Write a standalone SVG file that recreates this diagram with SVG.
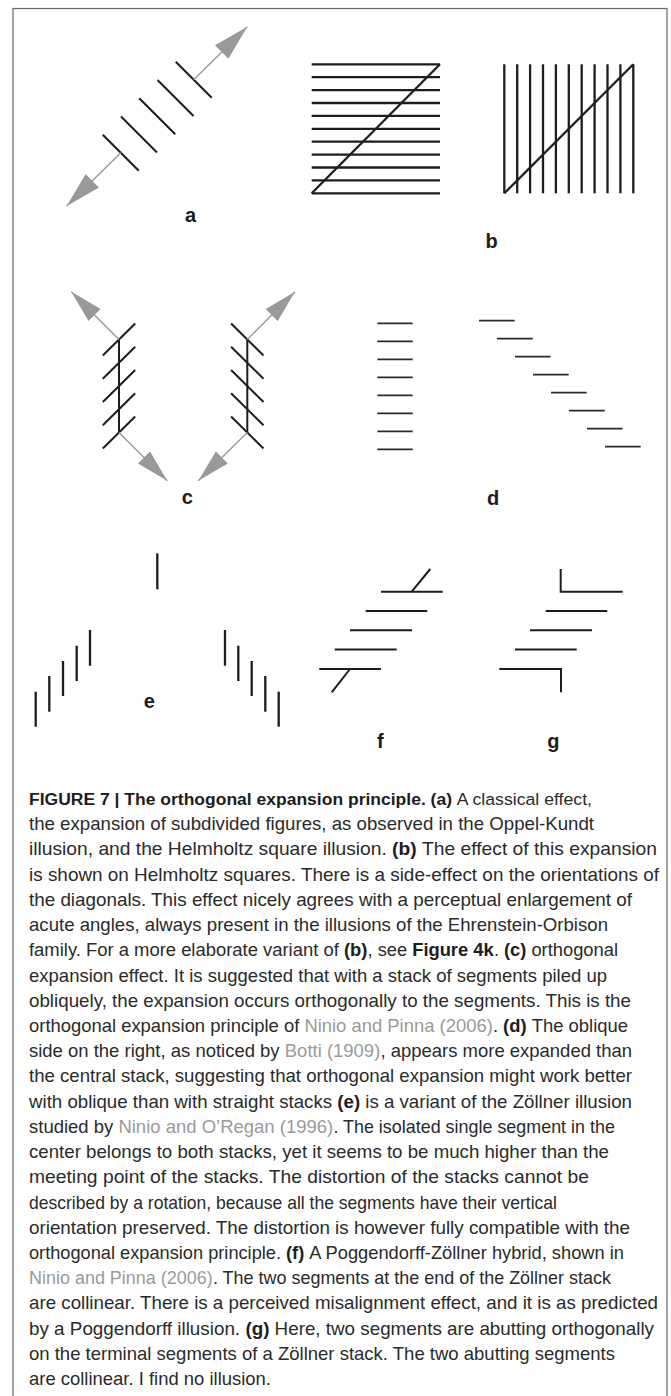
<svg xmlns="http://www.w3.org/2000/svg" width="671" height="1396" viewBox="0 0 671 1396">
<style>
.k{stroke:#1e1c1d;stroke-width:2;fill:none;stroke-linecap:butt}
.kb{stroke:#1e1c1d;stroke-width:2.3;fill:none}
.kd{stroke:#2a2a2a;stroke-width:1.8;fill:none}
.g{stroke:#9a9a9a;stroke-width:1.4;fill:none}
.lab{font-family:"Liberation Sans",Arial,sans-serif;font-weight:bold;font-size:20px;fill:#1e1c1d;text-anchor:middle}
.cap text{font-family:"Liberation Sans",Arial,sans-serif;font-size:18.4px;fill:#2a2a2a}
.cap .b{font-weight:bold;fill:#1e1c1d}
.cap .r{fill:#9a9a9a}
</style>
<defs>
<marker id="ahA" markerUnits="userSpaceOnUse" viewBox="0 0 36 20" markerWidth="36" markerHeight="20" refX="36" refY="10" orient="auto"><path d="M0,0.5 L36,10 L0,19.5 z" fill="#999"/></marker>
<marker id="ahC" markerUnits="userSpaceOnUse" viewBox="0 0 33 18" markerWidth="33" markerHeight="18" refX="33" refY="9" orient="auto"><path d="M0,0.5 L33,9 L0,17.5 z" fill="#999"/></marker>
</defs>
<rect x="13" y="8.5" width="654" height="1400" fill="#fff" stroke="#666" stroke-width="1.2"/>

<g id="panel-a">
<line class="k" x1="102.8" y1="134.8" x2="138.8" y2="170.8"/>
<line class="k" x1="121" y1="116.5" x2="157" y2="152.5"/>
<line class="k" x1="139.2" y1="98.2" x2="175.2" y2="134.2"/>
<line class="k" x1="157.5" y1="80" x2="193.5" y2="116"/>
<line class="k" x1="175.7" y1="61.7" x2="211.7" y2="97.7"/>
<text class="lab" x="190.5" y="222">a</text>
</g>

<g id="panel-b">
<g class="kb">
<line x1="311.7" y1="64.3" x2="440" y2="64.3"/>
<line x1="311.7" y1="77.2" x2="440" y2="77.2"/>
<line x1="311.7" y1="90.1" x2="440" y2="90.1"/>
<line x1="311.7" y1="103" x2="440" y2="103"/>
<line x1="311.7" y1="115.9" x2="440" y2="115.9"/>
<line x1="311.7" y1="128.8" x2="440" y2="128.8"/>
<line x1="311.7" y1="141.7" x2="440" y2="141.7"/>
<line x1="311.7" y1="154.6" x2="440" y2="154.6"/>
<line x1="311.7" y1="167.5" x2="440" y2="167.5"/>
<line x1="311.7" y1="180.4" x2="440" y2="180.4"/>
<line x1="311.7" y1="193.3" x2="440" y2="193.3"/>
<line x1="311.7" y1="193.3" x2="440" y2="64.3"/>
<line x1="504.3" y1="64.3" x2="504.3" y2="193.3"/>
<line x1="517.2" y1="64.3" x2="517.2" y2="193.3"/>
<line x1="530.1" y1="64.3" x2="530.1" y2="193.3"/>
<line x1="543" y1="64.3" x2="543" y2="193.3"/>
<line x1="555.9" y1="64.3" x2="555.9" y2="193.3"/>
<line x1="568.8" y1="64.3" x2="568.8" y2="193.3"/>
<line x1="581.7" y1="64.3" x2="581.7" y2="193.3"/>
<line x1="594.6" y1="64.3" x2="594.6" y2="193.3"/>
<line x1="607.5" y1="64.3" x2="607.5" y2="193.3"/>
<line x1="620.4" y1="64.3" x2="620.4" y2="193.3"/>
<line x1="633.3" y1="64.3" x2="633.3" y2="193.3"/>
<line x1="504.3" y1="193.3" x2="633.3" y2="64.3"/>
</g>
<text class="lab" x="491.7" y="248">b</text>
</g>

<g id="panel-c">
<g class="k">
<line x1="119" y1="339.5" x2="119" y2="432.5"/>
<line x1="102.8" y1="355.5" x2="135.2" y2="323.5"/>
<line x1="102.8" y1="378.75" x2="135.2" y2="346.75"/>
<line x1="102.8" y1="402" x2="135.2" y2="370"/>
<line x1="102.8" y1="425.25" x2="135.2" y2="393.25"/>
<line x1="102.8" y1="448.5" x2="135.2" y2="416.5"/>
<line x1="247.3" y1="339.5" x2="247.3" y2="432.5"/>
<line x1="231.1" y1="323.5" x2="263.5" y2="355.5"/>
<line x1="231.1" y1="346.75" x2="263.5" y2="378.75"/>
<line x1="231.1" y1="370" x2="263.5" y2="402"/>
<line x1="231.1" y1="393.25" x2="263.5" y2="425.25"/>
<line x1="231.1" y1="416.5" x2="263.5" y2="448.5"/>
</g>
<text class="lab" x="187.3" y="504">c</text>
</g>

<g id="panel-d">
<g class="kd">
<line x1="377.3" y1="323.3" x2="412.7" y2="323.3"/>
<line x1="377.3" y1="341.3" x2="412.7" y2="341.3"/>
<line x1="377.3" y1="359.3" x2="412.7" y2="359.3"/>
<line x1="377.3" y1="377.3" x2="412.7" y2="377.3"/>
<line x1="377.3" y1="395.3" x2="412.7" y2="395.3"/>
<line x1="377.3" y1="413.3" x2="412.7" y2="413.3"/>
<line x1="377.3" y1="431.3" x2="412.7" y2="431.3"/>
<line x1="377.3" y1="449.3" x2="412.7" y2="449.3"/>
<line x1="479" y1="320.7" x2="514.7" y2="320.7"/>
<line x1="497" y1="338.7" x2="532.7" y2="338.7"/>
<line x1="515" y1="356.7" x2="550.7" y2="356.7"/>
<line x1="533" y1="374.7" x2="568.7" y2="374.7"/>
<line x1="551" y1="392.7" x2="586.7" y2="392.7"/>
<line x1="569" y1="410.7" x2="604.7" y2="410.7"/>
<line x1="587" y1="428.7" x2="622.7" y2="428.7"/>
<line x1="605" y1="446.7" x2="640.7" y2="446.7"/>
</g>
<text class="lab" x="493" y="505">d</text>
</g>

<g id="panel-e">
<g class="kb">
<line x1="157.3" y1="553.3" x2="157.3" y2="589.3"/>
<line x1="35.7" y1="691.7" x2="35.7" y2="726.7"/>
<line x1="49.3" y1="676" x2="49.3" y2="711.7"/>
<line x1="63" y1="661" x2="63" y2="696"/>
<line x1="76.7" y1="645.7" x2="76.7" y2="681"/>
<line x1="90" y1="630" x2="90" y2="665.7"/>
<line x1="225" y1="630" x2="225" y2="665.7"/>
<line x1="238.3" y1="645.7" x2="238.3" y2="681"/>
<line x1="251.7" y1="661" x2="251.7" y2="696"/>
<line x1="265.3" y1="676" x2="265.3" y2="711.7"/>
<line x1="278.7" y1="691.7" x2="278.7" y2="726.7"/>
</g>
<text class="lab" x="149.3" y="708">e</text>
</g>

<g id="panel-f">
<g class="k">
<line x1="381" y1="591.7" x2="442.7" y2="591.7"/>
<line x1="365.7" y1="611" x2="427.3" y2="611"/>
<line x1="350" y1="630.3" x2="412" y2="630.3"/>
<line x1="334.7" y1="649.6" x2="396.7" y2="649.6"/>
<line x1="319.3" y1="669" x2="381" y2="669"/>
<line x1="411.7" y1="591.7" x2="430.3" y2="569"/>
<line x1="350" y1="669" x2="331.7" y2="692.3"/>
</g>
<text class="lab" x="380.3" y="748">f</text>
</g>

<g id="panel-g">
<g class="k">
<polyline points="560.7,569 560.7,591.7 622.7,591.7"/>
<line x1="545.7" y1="611" x2="607.3" y2="611"/>
<line x1="530" y1="630.3" x2="592" y2="630.3"/>
<line x1="515" y1="649.6" x2="576.7" y2="649.6"/>
<polyline points="499.3,669 561,669 561,692.3"/>
</g>
<text class="lab" x="553.3" y="748">g</text>
</g>

<g id="connectors">
<line class="g" x1="120.8" y1="152.8" x2="66.7" y2="206" marker-end="url(#ahA)"/>
<line class="g" x1="193.7" y1="79.7" x2="247.3" y2="26.7" marker-end="url(#ahA)"/>
<line class="g" x1="119" y1="339.5" x2="71.3" y2="291.7" marker-end="url(#ahC)"/>
<line class="g" x1="119" y1="432.5" x2="167.3" y2="480.7" marker-end="url(#ahC)"/>
<line class="g" x1="247.3" y1="339.5" x2="295" y2="291.7" marker-end="url(#ahC)"/>
<line class="g" x1="247.3" y1="432.5" x2="198.3" y2="480.7" marker-end="url(#ahC)"/>
</g>

<g id="caption" class="cap">
<text class="b" x="29" y="805" style="font-size:17.4px" textLength="423" lengthAdjust="spacingAndGlyphs">FIGURE 7 | The orthogonal expansion principle. (a)</text>
<text x="456.8" y="805" style="font-size:17.4px" textLength="135.2" lengthAdjust="spacingAndGlyphs">A classical effect,</text>

<text x="29" y="830.2" textLength="565" lengthAdjust="spacingAndGlyphs">the expansion of subdivided figures, as observed in the Oppel-Kundt</text>

<text x="29" y="855.4" textLength="357.8" lengthAdjust="spacingAndGlyphs">illusion, and the Helmholtz square illusion.</text>
<text class="b" x="392.1" y="855.4" textLength="24.5" lengthAdjust="spacingAndGlyphs">(b)</text>
<text x="422" y="855.4" textLength="235" lengthAdjust="spacingAndGlyphs">The effect of this expansion</text>

<text x="29" y="880.7" textLength="630" lengthAdjust="spacingAndGlyphs">is shown on Helmholtz squares. There is a side-effect on the orientations of</text>
<text x="29" y="905.9" textLength="603" lengthAdjust="spacingAndGlyphs">the diagonals. This effect nicely agrees with a perceptual enlargement of</text>
<text x="29" y="931.1" textLength="579" lengthAdjust="spacingAndGlyphs">acute angles, always present in the illusions of the Ehrenstein-Orbison</text>

<text x="29" y="956.3" style="font-size:18.3px" textLength="309.8" lengthAdjust="spacingAndGlyphs">family. For a more elaborate variant of</text>
<text class="b" x="343.9" y="956.3" style="font-size:18.3px" textLength="23.4" lengthAdjust="spacingAndGlyphs">(b)</text>
<text x="367.6" y="956.3" style="font-size:18.3px" textLength="39.6" lengthAdjust="spacingAndGlyphs">, see</text>
<text class="b" x="412.2" y="956.3" style="font-size:18.3px" textLength="81.5" lengthAdjust="spacingAndGlyphs">Figure 4k</text>
<text x="494" y="956.3" style="font-size:18.3px">.</text>
<text class="b" x="503.9" y="956.3" style="font-size:18.3px" textLength="22.4" lengthAdjust="spacingAndGlyphs">(c)</text>
<text x="531.4" y="956.3" style="font-size:18.3px" textLength="86.6" lengthAdjust="spacingAndGlyphs">orthogonal</text>

<text x="29" y="981.5" textLength="578" lengthAdjust="spacingAndGlyphs">expansion effect. It is suggested that with a stack of segments piled up</text>
<text x="29" y="1006.8" textLength="602" lengthAdjust="spacingAndGlyphs">obliquely, the expansion occurs orthogonally to the segments. This is the</text>

<text x="29" y="1032" textLength="270.3" lengthAdjust="spacingAndGlyphs">orthogonal expansion principle of</text>
<text class="r" x="304.4" y="1032" textLength="188.4" lengthAdjust="spacingAndGlyphs">Ninio and Pinna (2006)</text>
<text x="493.1" y="1032">.</text>
<text class="b" x="503.1" y="1032" textLength="23.5" lengthAdjust="spacingAndGlyphs">(d)</text>
<text x="531.7" y="1032" textLength="96.3" lengthAdjust="spacingAndGlyphs">The oblique</text>

<text x="29" y="1057.2" textLength="250.6" lengthAdjust="spacingAndGlyphs">side on the right, as noticed by</text>
<text class="r" x="284.8" y="1057.2" textLength="95.5" lengthAdjust="spacingAndGlyphs">Botti (1909)</text>
<text x="380.5" y="1057.2" textLength="251.5" lengthAdjust="spacingAndGlyphs">, appears more expanded than</text>

<text x="29" y="1082.4" textLength="603" lengthAdjust="spacingAndGlyphs">the central stack, suggesting that orthogonal expansion might work better</text>

<text x="29" y="1107.6" textLength="303.1" lengthAdjust="spacingAndGlyphs">with oblique than with straight stacks</text>
<text class="b" x="337.3" y="1107.6" textLength="22.8" lengthAdjust="spacingAndGlyphs">(e)</text>
<text x="365.3" y="1107.6" textLength="266.7" lengthAdjust="spacingAndGlyphs">is a variant of the Zöllner illusion</text>

<text x="29" y="1132.9" textLength="84.3" lengthAdjust="spacingAndGlyphs">studied by</text>
<text class="r" x="118.4" y="1132.9" textLength="214.8" lengthAdjust="spacingAndGlyphs">Ninio and O’Regan (1996)</text>
<text x="333.4" y="1132.9" textLength="281.5" lengthAdjust="spacingAndGlyphs">. The isolated single segment in the</text>

<text x="29" y="1158.1" textLength="580" lengthAdjust="spacingAndGlyphs">center belongs to both stacks, yet it seems to be much higher than the</text>
<text x="29" y="1183.3" textLength="560" lengthAdjust="spacingAndGlyphs">meeting point of the stacks. The distortion of the stacks cannot be</text>
<text x="29" y="1208.5" textLength="528" lengthAdjust="spacingAndGlyphs">described by a rotation, because all the segments have their vertical</text>
<text x="29" y="1233.7" textLength="601" lengthAdjust="spacingAndGlyphs">orientation preserved. The distortion is however fully compatible with the</text>

<text x="29" y="1259" style="font-size:18.2px" textLength="252" lengthAdjust="spacingAndGlyphs">orthogonal expansion principle.</text>
<text class="b" x="286" y="1259" style="font-size:18.2px" textLength="18.2" lengthAdjust="spacingAndGlyphs">(f)</text>
<text x="309.3" y="1259" style="font-size:18.2px" textLength="314.7" lengthAdjust="spacingAndGlyphs">A Poggendorff-Zöllner hybrid, shown in</text>

<text class="r" x="29" y="1284.2" style="font-size:17.9px" textLength="183.7" lengthAdjust="spacingAndGlyphs">Ninio and Pinna (2006)</text>
<text x="212.9" y="1284.2" style="font-size:17.9px" textLength="398.1" lengthAdjust="spacingAndGlyphs">. The two segments at the end of the Zöllner stack</text>

<text x="29" y="1309.4" textLength="629" lengthAdjust="spacingAndGlyphs">are collinear. There is a perceived misalignment effect, and it is as predicted</text>

<text x="29" y="1334.6" textLength="211.1" lengthAdjust="spacingAndGlyphs">by a Poggendorff illusion.</text>
<text class="b" x="245.4" y="1334.6" textLength="24" lengthAdjust="spacingAndGlyphs">(g)</text>
<text x="274.6" y="1334.6" textLength="379.4" lengthAdjust="spacingAndGlyphs">Here, two segments are abutting orthogonally</text>

<text x="29" y="1359.8" textLength="586" lengthAdjust="spacingAndGlyphs">on the terminal segments of a Zöllner stack. The two abutting segments</text>
<text x="29" y="1385" textLength="242" lengthAdjust="spacingAndGlyphs">are collinear. I find no illusion.</text>
</g>
</svg>
